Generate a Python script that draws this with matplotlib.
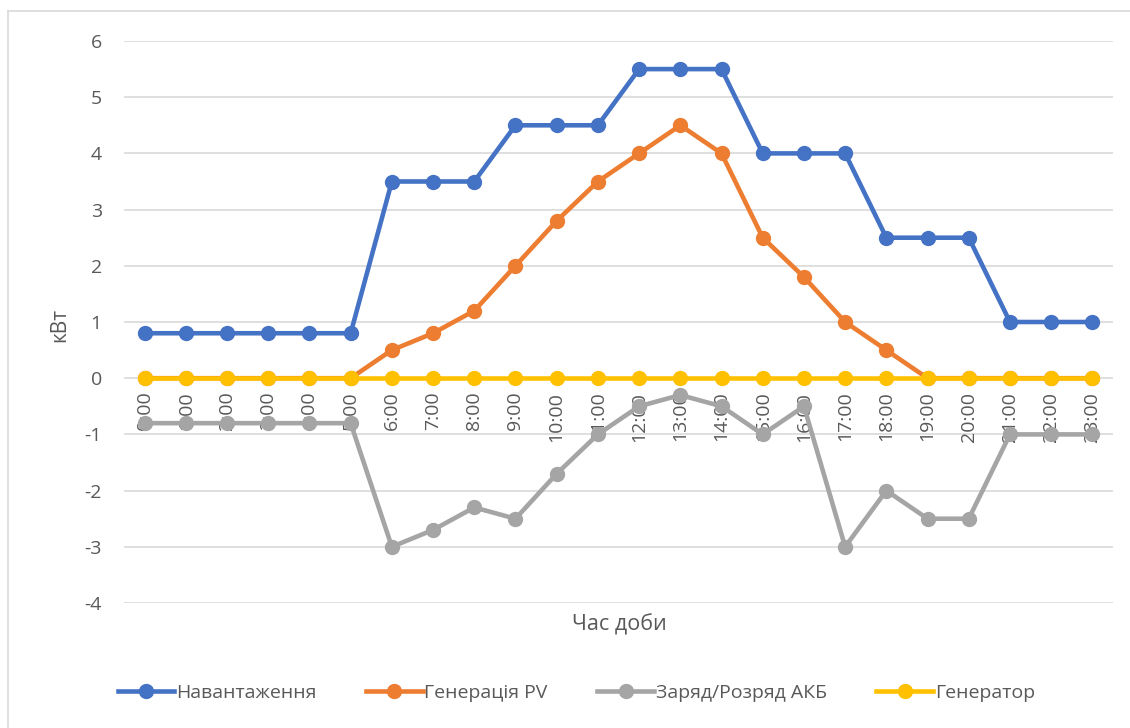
import matplotlib

matplotlib.use("Agg")
import matplotlib.pyplot as plt
from matplotlib.lines import Line2D

hours = [f"{h}:00" for h in range(24)]
load = [0.8, 0.8, 0.8, 0.8, 0.8, 0.8, 3.5, 3.5, 3.5, 4.5, 4.5, 4.5,
        5.5, 5.5, 5.5, 4, 4, 4, 2.5, 2.5, 2.5, 1, 1, 1]
pv = [0, 0, 0, 0, 0, 0, 0.5, 0.8, 1.2, 2, 2.8, 3.5,
      4, 4.5, 4, 2.5, 1.8, 1, 0.5, 0, 0, 0, 0, 0]
battery = [-0.8, -0.8, -0.8, -0.8, -0.8, -0.8, -3, -2.7, -2.3, -2.5, -1.7, -1,
           -0.5, -0.3, -0.5, -1, -0.5, -3, -2, -2.5, -2.5, -1, -1, -1]
generator = [0] * 24

series = [
    ("Навантаження", load, "#4472C4"),
    ("Генерація PV", pv, "#ED7D31"),
    ("Заряд/Розряд АКБ", battery, "#A5A5A5"),
    ("Генератор", generator, "#FFC000"),
]

plt.rcParams["font.family"] = ["Open Sans", "DejaVu Sans"]
plt.rcParams["axes.unicode_minus"] = False
text_col = "#595959"

fig = plt.figure(figsize=(11.3, 7.28), dpi=100)
ax = fig.add_axes([124 / 1130, 1 - 603 / 728, 989 / 1130, 562 / 728])

x = list(range(len(hours)))
for name, vals, col in series:
    ax.plot(x, vals, color=col, lw=3.3, marker="o", ms=10, label=name,
            solid_capstyle="round", zorder=3)

ax.set_xlim(-0.5, 23.5)
ax.set_ylim(-4, 6)
ax.set_yticks(range(-4, 7))
ax.grid(axis="y", color="#D9D9D9", lw=1.2)
ax.set_axisbelow(True)
for s in ax.spines.values():
    s.set_visible(False)
ax.tick_params(axis="y", length=0, labelsize=14, labelcolor=text_col, pad=16)
ax.set_xticks([])

# category labels sit under the zero line
for i, h in enumerate(hours):
    ax.text(i, -0.24, h, rotation=90, ha="center", va="top", fontsize=14,
            color=text_col, zorder=2)

fig.text(60 / 1130, 1 - 325 / 728, "кВт", rotation=90, ha="center", va="center",
         fontsize=15, color=text_col)
fig.text(619 / 1130, 1 - 625 / 728, "Час доби", ha="center", va="center",
         fontsize=15.5, color=text_col)

handles = [Line2D([], [], color=c, lw=3.3, marker="o", ms=10) for _, _, c in series]
fig.legend(handles, [n for n, _, _ in series], loc="center",
           bbox_to_anchor=(0.51, 1 - 693 / 728), ncol=4, frameon=False,
           fontsize=14, labelcolor=text_col, handlelength=2.9,
           handletextpad=0.1, columnspacing=2.55)

# chart frame
fig.add_artist(Line2D([8 / 1130, 1], [1 - 11 / 728] * 2, color="#D9D9D9", lw=1.2))
fig.add_artist(Line2D([8 / 1130] * 2, [0, 1 - 11 / 728], color="#D9D9D9", lw=1.2))

fig.savefig("out.png", dpi=100)
